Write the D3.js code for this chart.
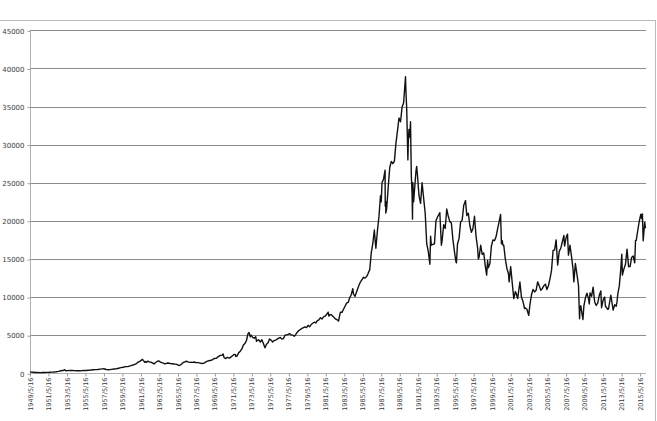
<!DOCTYPE html>
<html>
<head>
<meta charset="utf-8">
<script src="https://cdn.jsdelivr.net/npm/d3@7"></script>
<style>
	body { margin: 0; background: white; }
	svg { display: block; }
</style>
</head>
<body>
<div id="chart"></div>
<script>
// Nikkei 225 close (date, value)
var d1949s = [["1949-05-16",176],["1949-07",150],["1949-09",135],["1949-12",109],
	["1950-03",100],["1950-06",95],["1950-07",85],["1950-09",100],["1950-12",102],
	["1951-03",120],["1951-06",130],["1951-09",160],["1951-12",166],
	["1952-03",200],["1952-06",250],["1952-09",330],["1952-12",362],
	["1953-02",474],["1953-03",340],["1953-06",350],["1953-09",390],["1953-12",377],
	["1954-03",350],["1954-06",340],["1954-09",330],["1954-11",315],["1954-12",356],
	["1955-03",360],["1955-06",370],["1955-09",395],["1955-12",425],
	["1956-03",470],["1956-06",480],["1956-09",500],["1956-12",549],
	["1957-03",580],["1957-05",595],["1957-08",500],["1957-12",475],
	["1958-03",520],["1958-06",560],["1958-09",590],["1958-12",666],
	["1959-03",750],["1959-06",800],["1959-09",880],["1959-12",874]]

var d1960s = [["1960-02",950],["1960-04",1000],["1960-06",1050],["1960-08",1150],["1960-10",1200],["1960-12",1356],
	["1961-02",1500],["1961-04",1600],["1961-07-18",1829],["1961-08",1700],["1961-10",1450],["1961-11",1550],["1961-12",1432],
	["1962-02",1600],["1962-04",1500],["1962-06",1450],["1962-08",1370],["1962-10",1216],["1962-12",1420],
	["1963-02",1550],["1963-04",1634],["1963-06",1500],["1963-08",1400],["1963-10",1350],["1963-12",1225],
	["1964-02",1300],["1964-04",1350],["1964-07",1280],["1964-10",1250],["1964-12",1216],
	["1965-02",1200],["1965-04",1150],["1965-07",1020],["1965-09",1150],["1965-12",1417],
	["1966-02",1500],["1966-04",1580],["1966-07",1470],["1966-09",1440],["1966-12",1430],
	["1967-02",1480],["1967-04",1410],["1967-07",1400],["1967-10",1330],["1967-12",1283],
	["1968-02",1300],["1968-04",1400],["1968-06",1520],["1968-09",1650],["1968-12",1714],
	["1969-02",1800],["1969-04",1950],["1969-07",1980],["1969-09",2150],["1969-12",2358]]

var d1970s = [["1970-02",2350],["1970-04-06",2534],["1970-05",2050],["1970-07",1930],["1970-09",2100],["1970-12",1987],
	["1971-02",2150],["1971-04",2300],["1971-06",2480],["1971-08",2450],["1971-08-20",2200],["1971-10",2300],["1971-12",2714],
	["1972-02",2900],["1972-04",3200],["1972-06",3700],["1972-08",3900],["1972-10",4300],["1972-12",5207],
	["1973-01-24",5359],["1973-03",4800],["1973-04",5000],["1973-06",4700],["1973-08",4600],["1973-10",4800],["1973-11",4200],["1973-12",4306],
	["1974-02",4400],["1974-04",4100],["1974-06",4400],["1974-08",3900],["1974-10",3355],["1974-12",3817],
	["1975-02",4000],["1975-04",4500],["1975-06",4350],["1975-08",4100],["1975-10",4300],["1975-12",4359],
	["1976-02",4500],["1976-04",4600],["1976-06",4700],["1976-08",4500],["1976-10",4550],["1976-12",4990],
	["1977-02",5050],["1977-04",5100],["1977-06",5200],["1977-08",5050],["1977-10",5000],["1977-12",4866],
	["1978-02",5100],["1978-04",5400],["1978-06",5600],["1978-08",5750],["1978-10",5900],["1978-12",6001],
	["1979-02",6100],["1979-04",6000],["1979-06",6300],["1979-08",6100],["1979-10",6400],["1979-12",6569]]

var d1980s = [["1980-02",6700],["1980-04",6600],["1980-06",6900],["1980-08",7000],["1980-10",7300],["1980-12",7116],
	["1981-02",7400],["1981-04",7500],["1981-06",7700],["1981-08-17",8019],["1981-09",7500],["1981-10",7700],["1981-12",7681],
	["1982-02",7500],["1982-04",7300],["1982-06",7100],["1982-08",7000],["1982-10-01",6849],["1982-11",7600],["1982-12",8016],
	["1983-02",8000],["1983-04",8400],["1983-06",8800],["1983-08",9200],["1983-10",9300],["1983-12",9893],
	["1984-02",10300],["1984-04",11100],["1984-05",10400],["1984-07",10100],["1984-09",10700],["1984-12",11542],
	["1985-02",12000],["1985-04",12300],["1985-06",12600],["1985-08",12500],["1985-10",12700],["1985-12",13113],
	["1986-02",13600],["1986-04",15800],["1986-06",17000],["1986-08",18800],["1986-09",17500],["1986-10",16400],["1986-12",18701],
	["1987-02",20600],["1987-04",23300],["1987-05",22500],["1987-06",25000],["1987-08",25500],["1987-10-14",26646],["1987-10-20",21910],
	["1987-11",22500],["1987-11-11",21036],["1987-12",21564],
	["1988-01",23000],["1988-02",24400],["1988-04",27000],["1988-06",27800],["1988-08",27500],["1988-10",27800],["1988-12",30159],
	["1989-02",31800],["1989-04",33500],["1989-06",33000],["1989-08",34900],["1989-10",35500],["1989-12-29",38915]]

var d1990s = [["1990-01",37000],["1990-02",34600],["1990-04-02",28002],["1990-04",30000],["1990-05",32000],["1990-06",31000],
	["1990-07",33000],["1990-08",26000],["1990-09",23500],["1990-10-01",20221],["1990-10",25000],["1990-11",22500],["1990-12",23848],
	["1991-02",26500],["1991-03",27146],["1991-04",26000],["1991-06",23300],["1991-08",22300],["1991-10",25000],["1991-12",22983],
	["1992-02",21000],["1992-04",17000],["1992-06",16000],["1992-08-18",14309],["1992-09",18000],["1992-10",16800],["1992-12",16924],
	["1993-02",17000],["1993-04",20000],["1993-06",20500],["1993-09",21076],["1993-11",16800],["1993-12",17417],
	["1994-02",19500],["1994-04",19000],["1994-06",21552],["1994-08",20600],["1994-10",19900],["1994-12",19723],
	["1995-02",17500],["1995-04",16000],["1995-06",14600],["1995-07-03",14485],["1995-08",17000],["1995-10",17700],["1995-12",19868],
	["1996-02",20100],["1996-04",22000],["1996-06-26",22666],["1996-08",20700],["1996-10",21000],["1996-12",19361],
	["1997-02",18500],["1997-04",19000],["1997-06",20600],["1997-08",18000],["1997-10",16500],["1997-11",15000],["1997-12",15258],
	["1998-02",16800],["1998-04",15600],["1998-06",15800],["1998-08",14100],["1998-10-09",12879],["1998-11",14800],["1998-12",13842],
	["1999-02",14400],["1999-04",16700],["1999-06",17500],["1999-08",17400],["1999-10",17900],["1999-12",18934]]

var d2000s = [["2000-02",19900],["2000-04-12",20833],["2000-05",17000],["2000-06",17400],["2000-07",16800],["2000-08",16800],["2000-10",15000],["2000-12",13786],
	["2001-02",13100],["2001-03",12000],["2001-05",14000],["2001-07",11900],["2001-09",9800],["2001-11",10700],["2001-12",10543],
	["2002-02",9800],["2002-05",11979],["2002-07",10000],["2002-09",9400],["2002-11",8500],["2002-12",8579],
	["2003-02",8400],["2003-04-28",7607],["2003-06",9000],["2003-08",10300],["2003-10",11000],["2003-12",10677],
	["2004-02",10900],["2004-04",12000],["2004-06",11500],["2004-08",10900],["2004-10",11100],["2004-12",11488],
	["2005-02",11700],["2005-04",11000],["2005-06",11500],["2005-08",12400],["2005-10",13500],["2005-12",16111],
	["2006-02",16200],["2006-04",17500],["2006-06",14200],["2006-08",16000],["2006-10",16400],["2006-12",17225],
	["2007-02",18100],["2007-03",16700],["2007-05",17800],["2007-07-09",18262],["2007-08",15500],["2007-10",16800],["2007-12",15308],
	["2008-02",13600],["2008-03",12000],["2008-05",14400],["2008-07",13000],["2008-09",11500],["2008-10-27",7162],["2008-11",8500],["2008-12",8859],
	["2009-02",7500],["2009-03-10",7054],["2009-04",8800],["2009-06",9900],["2009-08",10500],["2009-10",9800],["2009-11",9100],["2009-12",10546]]

var d2010s = [["2010-02",10100],["2010-04",11300],["2010-06",9400],["2010-08",8900],["2010-10",9200],["2010-12",10228],
	["2011-02",10800],["2011-03-15",8605],["2011-05",9600],["2011-07",10000],["2011-08",8800],["2011-11",8400],["2011-12",8455],
	["2012-02",9700],["2012-03",10255],["2012-06",8295],["2012-08",9000],["2012-10",8800],["2012-11",9400],["2012-12",10395],
	["2013-02",11500],["2013-04",13800],["2013-05-22",15627],["2013-06",12900],["2013-08",13700],["2013-10",14300],["2013-12",16291],
	["2014-02",14000],["2014-04",14000],["2014-06",15200],["2014-08",15400],["2014-10",14500],["2014-11",17400],["2014-12",17450],
	["2015-02",18800],["2015-04",20000],["2015-06",20868],["2015-07",20300],["2015-08",20900],["2015-09",17388],["2015-10",18600],
	["2015-11",19800],["2015-12",19034]]

var yTicks = [0, 5000, 10000, 15000, 20000, 25000, 30000, 35000, 40000, 45000]
var xTickYears = d3.range(1949, 2016, 2) // labels every two years on 5/16

var w = 657,
	h = 421,
	plotLeft = 30,
	plotRight = 646,
	plotTop = 30.3,
	plotBottom = 373.3

var parseDay = d3.timeParse("%Y-%m-%d"),
	parseMonth = d3.timeParse("%Y-%m")

function toDate(s){
	return s.length > 7 ? parseDay(s) : d3.timeDay.offset(parseMonth(s), 14)
}

var series = [].concat(d1949s, d1960s, d1970s, d1980s, d1990s, d2000s, d2010s)
	.map(function(d){ return {date: toDate(d[0]), value: d[1]} })

var x = d3.scaleTime()
	.domain([new Date(1949, 4, 16), new Date(2016, 0, 4)])
	.range([plotLeft, plotRight])

var y = d3.scaleLinear()
	.domain([0, 45000])
	.range([plotBottom, plotTop])

var svg = d3.select("#chart")
	.append("svg")
	.attr("width", w)
	.attr("height", h)

// chart border (cropped on the left and bottom)
svg.append("rect")
	.attr("x", -5)
	.attr("y", 20.5)
	.attr("width", 660.5)
	.attr("height", 420)
	.attr("fill", "none")
	.attr("stroke", "#b9b9b9")
	.attr("stroke-width", 1)

svg.append("g")
	.selectAll("line")
	.data(yTicks.slice(1))
	.enter()
	.append("line")
	.attr("x1", plotLeft)
	.attr("x2", plotRight)
	.attr("y1", function(d){ return Math.round(y(d)) + 0.5 })
	.attr("y2", function(d){ return Math.round(y(d)) + 0.5 })
	.attr("stroke", "#8c8c8c")
	.attr("stroke-width", 1)

var yAxis = svg.append("g")
	.attr("transform", "translate(" + (plotLeft + 0.5) + ",0.5)")
	.call(d3.axisLeft(y).tickValues(yTicks).tickSize(3).tickPadding(3).tickFormat(d3.format("d")))

var xAxis = svg.append("g")
	.attr("transform", "translate(0," + (Math.round(plotBottom) + 0.5) + ")")
	.call(d3.axisBottom(x)
		.tickValues(xTickYears.map(function(yr){ return new Date(yr, 4, 16) }))
		.tickSize(3)
		.tickFormat(d3.timeFormat("%Y/%-m/%-d")))

svg.selectAll(".domain")
	.attr("stroke", "#b0b0b0")
xAxis.select(".domain").attr("d", "M" + plotLeft + ",0H" + plotRight)
yAxis.select(".domain").attr("d", "M0," + plotTop + "V" + plotBottom)
svg.selectAll(".tick line")
	.attr("stroke", "#9a9a9a")

yAxis.selectAll("text")
	.attr("font-family", "DejaVu Sans")
	.attr("font-size", 7)
	.attr("fill", "#3a3a3a")

xAxis.selectAll("text")
	.attr("font-family", "DejaVu Sans")
	.attr("font-size", 6.5)
	.attr("fill", "#3a3a3a")
	.attr("text-anchor", "end")
	.attr("dy", "0.32em")
	.attr("transform", "translate(0,4) rotate(-90)")
	.attr("x", 0)
	.attr("y", 0)

var line = d3.line()
	.x(function(d){ return x(d.date) })
	.y(function(d){ return y(d.value) })

svg.append("path")
	.datum(series)
	.attr("fill", "none")
	.attr("stroke", "#111")
	.attr("stroke-width", 1.4)
	.attr("stroke-linejoin", "round")
	.attr("d", line)
</script>
</body>
</html>
